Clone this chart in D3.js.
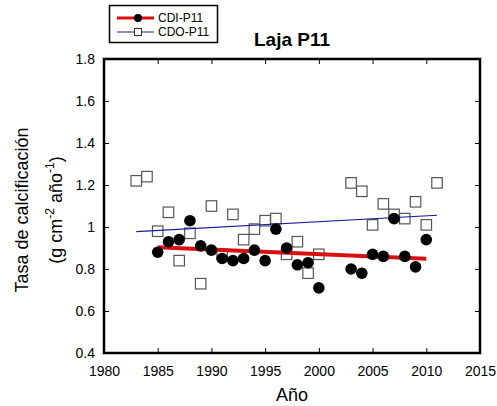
<!DOCTYPE html>
<html>
<head>
<meta charset="utf-8">
<script src="https://cdn.jsdelivr.net/npm/d3@7"></script>
<style>
  body { margin: 0; background: #fff; }
  text { font-family: "Liberation Sans", Arial, sans-serif; }
</style>
</head>
<body>
<div id="chart"></div>
<script>
const cdiYears = [1985, 1986, 1987, 1988, 1989, 1990, 1991, 1992, 1993, 1994, 1995, 1996,
  1997, 1998, 1999, 2000, 2003, 2004, 2005, 2006, 2007, 2008, 2009, 2010];
const cdiValues = [0.88, 0.93, 0.94, 1.03, 0.91, 0.89, 0.85, 0.84, 0.85, 0.89, 0.84, 0.99,
  0.90, 0.82, 0.83, 0.71, 0.80, 0.78, 0.87, 0.86, 1.04, 0.86, 0.81, 0.94];

const cdoYears = [1983, 1984, 1985, 1986, 1987, 1988, 1989, 1990, 1991, 1992, 1993, 1994,
  1995, 1996, 1997, 1998, 1999, 2000, 2003, 2004, 2005, 2006, 2007, 2008, 2009, 2010, 2011];
const cdoValues = [1.22, 1.24, 0.98, 1.07, 0.84, 0.97, 0.73, 1.10, 0.87, 1.06, 0.94, 0.99,
  1.03, 1.04, 0.87, 0.93, 0.78, 0.87, 1.21, 1.17, 1.01, 1.11, 1.06, 1.04, 1.12, 1.01, 1.21];

// fitted trend lines, endpoints
const cdiTrendYears = [1985, 2010];
const cdiTrendValues = [0.903, 0.849];
const cdoTrendYears = [1983, 2011];
const cdoTrendValues = [0.978, 1.056];

const xTicks = [1980, 1985, 1990, 1995, 2000, 2005, 2010, 2015];
const yTicks = [0.4, 0.6, 0.8, 1, 1.2, 1.4, 1.6, 1.8];

const width = 497;
const height = 406;
const margin = { top: 59, right: 17, bottom: 53, left: 104 };

const svg = d3.select("#chart")
  .append("svg")
  .attr("width", width)
  .attr("height", height);

const x = d3.scaleLinear()
  .domain([1980, 2015])
  .range([margin.left, width - margin.right]);

const y = d3.scaleLinear()
  .domain([0.4, 1.8])
  .range([height - margin.bottom, margin.top]);

const fmt = d => String(d);

// axes, ticks pointing inward on all four sides
svg.append("g")
  .attr("transform", `translate(0,${height - margin.bottom})`)
  .call(d3.axisBottom(x).tickValues(xTicks).tickSize(-5).tickPadding(13).tickFormat(fmt))
  .call(g => g.select(".domain").remove())
  .call(g => g.selectAll("text").attr("font-size", 14).attr("fill", "#000"));

svg.append("g")
  .attr("transform", `translate(0,${margin.top})`)
  .call(d3.axisTop(x).tickValues(xTicks).tickSize(-5).tickFormat(""))
  .call(g => g.select(".domain").remove());

svg.append("g")
  .attr("transform", `translate(${margin.left},0)`)
  .call(d3.axisLeft(y).tickValues(yTicks).tickSize(-5).tickPadding(9).tickFormat(fmt))
  .call(g => g.select(".domain").remove())
  .call(g => g.selectAll("text").attr("font-size", 14).attr("fill", "#000"));

svg.append("g")
  .attr("transform", `translate(${width - margin.right},0)`)
  .call(d3.axisRight(y).tickValues(yTicks).tickSize(-5).tickFormat(""))
  .call(g => g.select(".domain").remove());

svg.append("rect")
  .attr("x", margin.left)
  .attr("y", margin.top)
  .attr("width", width - margin.left - margin.right)
  .attr("height", height - margin.top - margin.bottom)
  .attr("fill", "none")
  .attr("stroke", "#000")
  .attr("stroke-width", 2.5);

const line = d3.line()
  .x(d => x(d[0]))
  .y(d => y(d[1]));

const cdi = cdiYears.map((yr, i) => [yr, cdiValues[i]]);
const cdo = cdoYears.map((yr, i) => [yr, cdoValues[i]]);

// CDO squares
const sq = 10.5;
svg.append("g")
  .selectAll("rect")
  .data(cdo)
  .join("rect")
  .attr("x", d => x(d[0]) - sq / 2)
  .attr("y", d => y(d[1]) - sq / 2)
  .attr("width", sq)
  .attr("height", sq)
  .attr("fill", "#fff")
  .attr("stroke", "#555")
  .attr("stroke-width", 1.2);

svg.append("path")
  .datum(cdoTrendYears.map((yr, i) => [yr, cdoTrendValues[i]]))
  .attr("d", line)
  .attr("fill", "none")
  .attr("stroke", "#1c1c96")
  .attr("stroke-width", 1.2);

svg.append("path")
  .datum(cdiTrendYears.map((yr, i) => [yr, cdiTrendValues[i]]))
  .attr("d", line)
  .attr("fill", "none")
  .attr("stroke", "#d81010")
  .attr("stroke-width", 4);

// CDI filled circles
svg.append("g")
  .selectAll("circle")
  .data(cdi)
  .join("circle")
  .attr("cx", d => x(d[0]))
  .attr("cy", d => y(d[1]))
  .attr("r", 5.8)
  .attr("fill", "#000");

// Title
svg.append("text")
  .attr("x", 292)
  .attr("y", 46)
  .attr("text-anchor", "middle")
  .attr("font-size", 19)
  .attr("font-weight", "bold")
  .text("Laja P11");

// Axis titles
svg.append("text")
  .attr("x", x(1997.5))
  .attr("y", 401)
  .attr("text-anchor", "middle")
  .attr("font-size", 18)
  .text("Año");

const yTitle = svg.append("g")
  .attr("transform", `translate(28,210) rotate(-90)`);
yTitle.append("text")
  .attr("text-anchor", "middle")
  .attr("font-size", 18)
  .text("Tasa de calcificación");
const yt2 = yTitle.append("text")
  .attr("y", 34)
  .attr("text-anchor", "middle")
  .attr("font-size", 18);
yt2.append("tspan").text("(g cm");
yt2.append("tspan").attr("dy", -8).attr("font-size", 12).text("-2");
yt2.append("tspan").attr("dy", 8).text(" año");
yt2.append("tspan").attr("dy", -8).attr("font-size", 12).text("-1");
yt2.append("tspan").attr("dy", 8).text(")");

// Legend
const legend = svg.append("g");
legend.append("rect")
  .attr("x", 109.5)
  .attr("y", 5.5)
  .attr("width", 108)
  .attr("height", 37)
  .attr("fill", "#fff")
  .attr("stroke", "#000")
  .attr("stroke-width", 1.5);

legend.append("line")
  .attr("x1", 117).attr("x2", 154)
  .attr("y1", 18).attr("y2", 18)
  .attr("stroke", "#d81010").attr("stroke-width", 3);
legend.append("circle")
  .attr("cx", 138).attr("cy", 18).attr("r", 4).attr("fill", "#000");
legend.append("text")
  .attr("x", 158).attr("y", 22)
  .attr("font-size", 12)
  .text("CDI-P11");

legend.append("line")
  .attr("x1", 117).attr("x2", 154)
  .attr("y1", 32).attr("y2", 32)
  .attr("stroke", "#1c1c96").attr("stroke-width", 1);
legend.append("rect")
  .attr("x", 134.5).attr("y", 28.5).attr("width", 7).attr("height", 7)
  .attr("fill", "#fff").attr("stroke", "#333").attr("stroke-width", 1);
legend.append("text")
  .attr("x", 158).attr("y", 36)
  .attr("font-size", 12)
  .text("CDO-P11");
</script>
</body>
</html>
